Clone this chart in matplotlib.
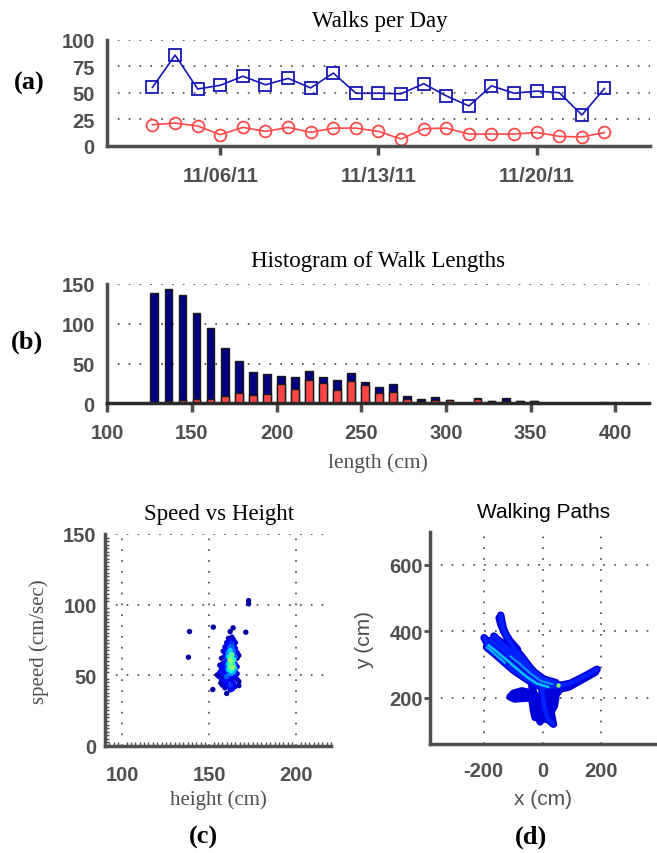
import numpy as np
import pandas as pd
import matplotlib
matplotlib.use('Agg')
import matplotlib.pyplot as plt
import matplotlib.dates as mdates
from matplotlib.ticker import MultipleLocator

plt.rcParams['font.family'] = ['Liberation Sans', 'DejaVu Sans']
plt.rcParams['axes.unicode_minus'] = False

SERIF = ['Liberation Serif', 'DejaVu Serif']
GRAY = '#4f4f4f'
W, H = 657, 854
grid_style = dict(color='#444444', linestyle=(0, (1, 5.5)), linewidth=1.2)

# ---- (a) walks per day ----
days = pd.date_range('2011-11-03', '2011-11-23', freq='D')
walks_all = [55, 85.5, 53.5, 57, 65.5, 57.5, 63.5, 54.5, 68.5, 49.5, 49.5,
             49, 58.5, 47, 37.5, 56.5, 49.5, 51.5, 50, 29, 54]
walks_red = [19.8, 21.4, 18.6, 10.4, 17.3, 13.5, 17.3, 12.6, 16.6, 16.6, 13.5,
             6.3, 16, 16.6, 11, 11, 11, 12.5, 8.8, 8.2, 12.5]
date_ticks = ['2011-11-06', '2011-11-13', '2011-11-20']

# ---- (b) histogram of walk lengths ----
bin_centers = 127.8 + 8.3 * np.arange(33)
len_all = [139, 143.6, 136.4, 113, 95, 70, 53, 39, 37.3, 34.7, 33.5, 41, 33,
           29.2, 37.7, 26.7, 20, 24.2, 9.3, 5, 8.5, 4.7, 1, 6.5, 3.4, 6.8,
           3.2, 3, 1, 1, 1, 0.5, 1.5]
len_red = [1, 3, 4.2, 6, 5.5, 9, 13.5, 11, 12.3, 24.6, 18.6, 29.5, 25.8,
           16.5, 27.5, 23.3, 12.7, 14.4, 6, 3.4, 4.2, 3.8, 0, 6, 3, 3.4,
           2.5, 2.5, 0, 0, 0, 0, 0]

# ---- (c) speed vs height ----
height_cm = [172.6, 172.6, 138.6, 138, 152.3, 163.7, 171, 162, 152, 160, 163.3, 167, 154.6, 156.6,
             161, 163, 162, 164, 160, 163, 165, 161,
             159, 162, 164, 158, 160, 161, 163, 164, 165, 166, 162, 163, 163.5,
             157, 159, 160, 161, 162, 163, 164, 165, 166, 162, 163, 161, 160, 163.5, 162.5, 167,
             156, 157.5, 158, 159, 160, 161, 162, 163, 164, 165, 166, 162.5, 163, 161, 162, 163.5, 164.5,
             156, 157, 158, 159, 160, 161, 162, 163, 164, 165, 166, 162.5, 163.5, 161,
             155.5, 157, 158, 159, 160, 161, 162, 163, 164, 165, 166, 167,
             157.5, 159, 160, 161, 162, 163, 164, 162, 165]
speed_cms = [102.8, 100.5, 80.9, 62.7, 84, 83.5, 80.4, 80.9, 39.8, 37, 40.2, 42.6, 50.2, 44.5,
             76, 77, 74, 75, 73, 72.5, 73, 72,
             70, 70, 71, 67, 68, 66.5, 68.5, 67, 69, 66, 67.5, 70, 66,
             62, 64, 61, 63, 62, 64.5, 61, 63, 62, 60.5, 61.5, 65, 62.5, 63, 64, 64,
             57, 58, 56, 59, 57, 58, 56, 59, 57, 58, 56, 58, 57, 56, 57.5, 55.5, 55,
             52, 54, 51, 53, 52, 54, 51, 53, 52, 54, 51, 53.5, 52.5, 52,
             49, 47, 48.5, 46, 49, 47, 48, 46, 48, 49.5, 47, 45.5,
             43, 41, 44, 42, 43, 41.5, 44, 39.5, 42]

# ---- (d) walking paths (x cm, y cm) ----
top_x = [-142, -138, -133, -121, -99, -70, -48, -25, 3, 32, 60]
top_y = [448, 428, 408, 383, 353, 323, 297, 272, 247, 237, 237]
top2_x = [-147, -141, -129, -110, -85]
top2_y = [440, 420, 395, 370, 345]
left_x = [-198, -184, -155, -121, -87, -53, -19, 20, 60]
left_y = [380, 358, 338, 313, 287, 262, 242, 232, 237]
mid_x = [-178, -145, -110, -75, -40, -5, 35]
mid_y = [372, 350, 325, 300, 272, 250, 240]
body_x = [-165, -135, -100, -65, -30, 5, 45]
body_y = [385, 360, 335, 305, 278, 255, 245]
low_x = [-190, -160, -128, -98, -65, -30, 5]
low_y = [352, 330, 305, 282, 262, 242, 228]
knuck1_x = [-168, -150, -130, -110, -90]
knuck1_y = [368, 372, 362, 345, 325]
knuck2_x = [-185, -160, -135, -105]
knuck2_y = [352, 342, 335, 318]
right_x = [40, 70, 95, 125, 155, 185]
right_y = [232, 238, 243, 256, 270, 285]
right2_x = [60, 90, 118, 150, 180]
right2_y = [226, 232, 246, 262, 277]
loop_x = [-20, -45, -70, -98, -110, -95, -60, -25]
loop_y = [205, 215, 220, 213, 202, 196, 198, 200]
down1_x = [-36, -28, -22, -17, -8]
down1_y = [235, 205, 180, 150, 127]
down2_x = [-2, 2, 8, 18, 37]
down2_y = [225, 195, 165, 135, 120]
down3_x = [25, 45, 40, 28, 20]
down3_y = [220, 200, 175, 155, 140]
down4_x = [-20, -10, -2, 10]
down4_y = [190, 165, 150, 135]
down5_x = [60, 42, 30, 25]
down5_y = [225, 205, 180, 155]
down6_x = [-45, -35, -30, -25]
down6_y = [215, 190, 160, 140]
down7_x = [10, 20, 30, 35]
down7_y = [215, 185, 150, 128]
hot_x = [52]
hot_y = [237]


def ax_rect(l, t, r, b):
    return [l / W, 1 - b / H, (r - l) / W, (b - t) / H]


def fig_text(x, y, s, **kw):
    fig.text(x / W, 1 - y / H, s, **kw)


def base_style(ax, bottom_color=GRAY):
    for s in ['top', 'right']:
        ax.spines[s].set_visible(False)
    ax.spines['left'].set_color(GRAY)
    ax.spines['left'].set_linewidth(2.5)
    ax.spines['bottom'].set_color(bottom_color)
    ax.spines['bottom'].set_linewidth(2.5)
    ax.tick_params(labelsize=14.5, labelcolor=GRAY, color=GRAY)
    for lab in ax.get_xticklabels() + ax.get_yticklabels():
        lab.set_fontweight('bold')
    ax.set_axisbelow(True)


fig = plt.figure(figsize=(W / 100, H / 100), dpi=100)

# (a)
ax = fig.add_axes(ax_rect(107.3, 40.7, 649.7, 146.7))
ax.plot(days, walks_all, color='#1616b4', lw=1.2, marker='s', ms=8,
        mfc='none', mec='#1616b4', mew=1.3)
ax.plot(days, walks_red, color='#ff4a4a', lw=1.2, marker='o', ms=8.5,
        mfc='none', mec='#ff4a4a', mew=1.3)
ax.set_xlim(pd.Timestamp('2011-11-01'), pd.Timestamp('2011-11-25'))
ax.set_ylim(0, 100)
ax.set_yticks([0, 25, 50, 75, 100])
ax.set_xticks(pd.to_datetime(date_ticks))
ax.xaxis.set_major_formatter(mdates.DateFormatter('%m/%d/%y'))
base_style(ax)
ax.grid(axis='y', **grid_style)
ax.tick_params(axis='x', direction='out', length=6.5, width=2.5, pad=8)
ax.tick_params(axis='y', length=0, pad=9)
fig_text(380, 26.7, 'Walks per Day', family=SERIF, fontsize=16.5,
         ha='center', va='baseline')
fig_text(29, 83, '(a)', family=SERIF, fontsize=19, fontweight='bold',
         ha='center', va='center')

# (b)
ax = fig.add_axes(ax_rect(107.3, 285, 649, 404.3))
ax.bar(bin_centers, len_all, width=4.6, color='#000080', edgecolor='#1a1a1a', lw=1)
ax.bar(bin_centers, len_red, width=4.6, color='#ff4545', edgecolor='#1a1a1a', lw=1)
ax.set_xlim(100, 420)
ax.set_ylim(0, 150)
ax.set_xticks([100, 150, 200, 250, 300, 350, 400])
ax.set_yticks([0, 50, 100, 150])
base_style(ax, bottom_color='#2a2a2a')
ax.grid(axis='y', **grid_style)
ax.tick_params(axis='x', direction='out', length=6.5, width=2.5, pad=8)
ax.tick_params(axis='y', length=0, pad=9)
fig_text(378, 266.7, 'Histogram of Walk Lengths', family=SERIF, fontsize=16.5,
         ha='center', va='baseline')
fig_text(378, 468, 'length (cm)', family=SERIF, fontsize=15.5, color=GRAY,
         ha='center', va='baseline')
fig_text(26.5, 342, '(b)', family=SERIF, fontsize=19, fontweight='bold',
         ha='center', va='center')

# (c)
ax = fig.add_axes(ax_rect(105, 535, 331, 746.7))
pts = np.column_stack([height_cm, speed_cms])
dx = (pts[:, 0][:, None] - pts[:, 0][None, :]) / 2.5
dy = (pts[:, 1][:, None] - pts[:, 1][None, :]) / 4.0
dens = ((dx ** 2 + dy ** 2) < 1).sum(axis=1).astype(float)
lev = 0.03 + 0.5 * ((dens - 1) / (dens.max() - 1)) ** 2
order = np.argsort(lev)
ax.scatter(pts[order, 0], pts[order, 1], c=plt.cm.jet(lev[order]), s=15,
           linewidths=0, zorder=3)
ax.set_xlim(90, 220)
ax.set_ylim(0, 150)
ax.set_xticks([100, 150, 200])
ax.set_yticks([0, 50, 100, 150])
base_style(ax)
ax.grid(True, **grid_style)
ax.xaxis.set_minor_locator(MultipleLocator(2.5))
ax.yaxis.set_minor_locator(MultipleLocator(2.5))
ax.tick_params(which='major', length=0)
ax.tick_params(axis='x', pad=14)
ax.tick_params(axis='y', pad=6)
ax.tick_params(which='minor', direction='in', length=3, width=1, color=GRAY)
fig_text(219, 520, 'Speed vs Height', family=SERIF, fontsize=16.5,
         ha='center', va='baseline')
fig_text(218, 805, 'height (cm)', family=SERIF, fontsize=15, color=GRAY,
         ha='center', va='baseline')
fig_text(39.5, 642, 'speed (cm/sec)', family=SERIF, fontsize=15, color=GRAY,
         ha='center', va='center', rotation=90)
fig_text(203, 837, '(c)', family=SERIF, fontsize=19, fontweight='bold',
         ha='center', va='center')

# (d)
ax = fig.add_axes(ax_rect(430, 532.7, 655, 745))
all_paths = [(top_x, top_y), (top2_x, top2_y), (left_x, left_y), (mid_x, mid_y),
             (body_x, body_y), (low_x, low_y), (knuck1_x, knuck1_y),
             (knuck2_x, knuck2_y), (right_x, right_y), (right2_x, right2_y),
             (loop_x, loop_y), (down1_x, down1_y), (down2_x, down2_y),
             (down3_x, down3_y), (down4_x, down4_y), (down5_x, down5_y),
             (down6_x, down6_y), (down7_x, down7_y)]
for px, py in all_paths:
    ax.plot(px, py, color=plt.cm.jet(0.08), lw=5.5, solid_capstyle='round',
            solid_joinstyle='round')
for px, py in [(top_x, top_y), (left_x, left_y), (mid_x, mid_y), (body_x, body_y),
               (low_x, low_y), (right_x, right_y), (down2_x, down2_y)]:
    ax.plot(px, py, color=plt.cm.jet(0.16), lw=3.2, solid_capstyle='round',
            solid_joinstyle='round')
ax.plot(left_x[1:8], left_y[1:8], color=plt.cm.jet(0.32), lw=1.8, solid_capstyle='round')
ax.plot(mid_x[2:7], mid_y[2:7], color=plt.cm.jet(0.27), lw=1.5, solid_capstyle='round')
ax.plot(low_x[0:3], low_y[0:3], color=plt.cm.jet(0.3), lw=1.5, solid_capstyle='round')
ax.scatter(hot_x, hot_y, color=plt.cm.jet(0.52), s=10, linewidths=0, zorder=4)
ax.set_xlim(-382, 382)
ax.set_ylim(60, 700)
ax.set_xticks([-200, 0, 200])
ax.set_yticks([200, 400, 600])
base_style(ax)
ax.grid(True, **grid_style)
ax.tick_params(axis='x', length=0, pad=12)
ax.tick_params(axis='y', direction='out', length=4, width=2, pad=1)
fig_text(544, 517.7, 'Walking Paths', fontsize=15, ha='center', va='baseline')
fig_text(543, 805, 'x (cm)', fontsize=15, color=GRAY, ha='center', va='baseline')
fig_text(365, 640, 'y (cm)', fontsize=15, color=GRAY, ha='center', va='center',
         rotation=90)
fig_text(531, 837, '(d)', family=SERIF, fontsize=19, fontweight='bold',
         ha='center', va='center')

fig.savefig('out.png', dpi=100)
